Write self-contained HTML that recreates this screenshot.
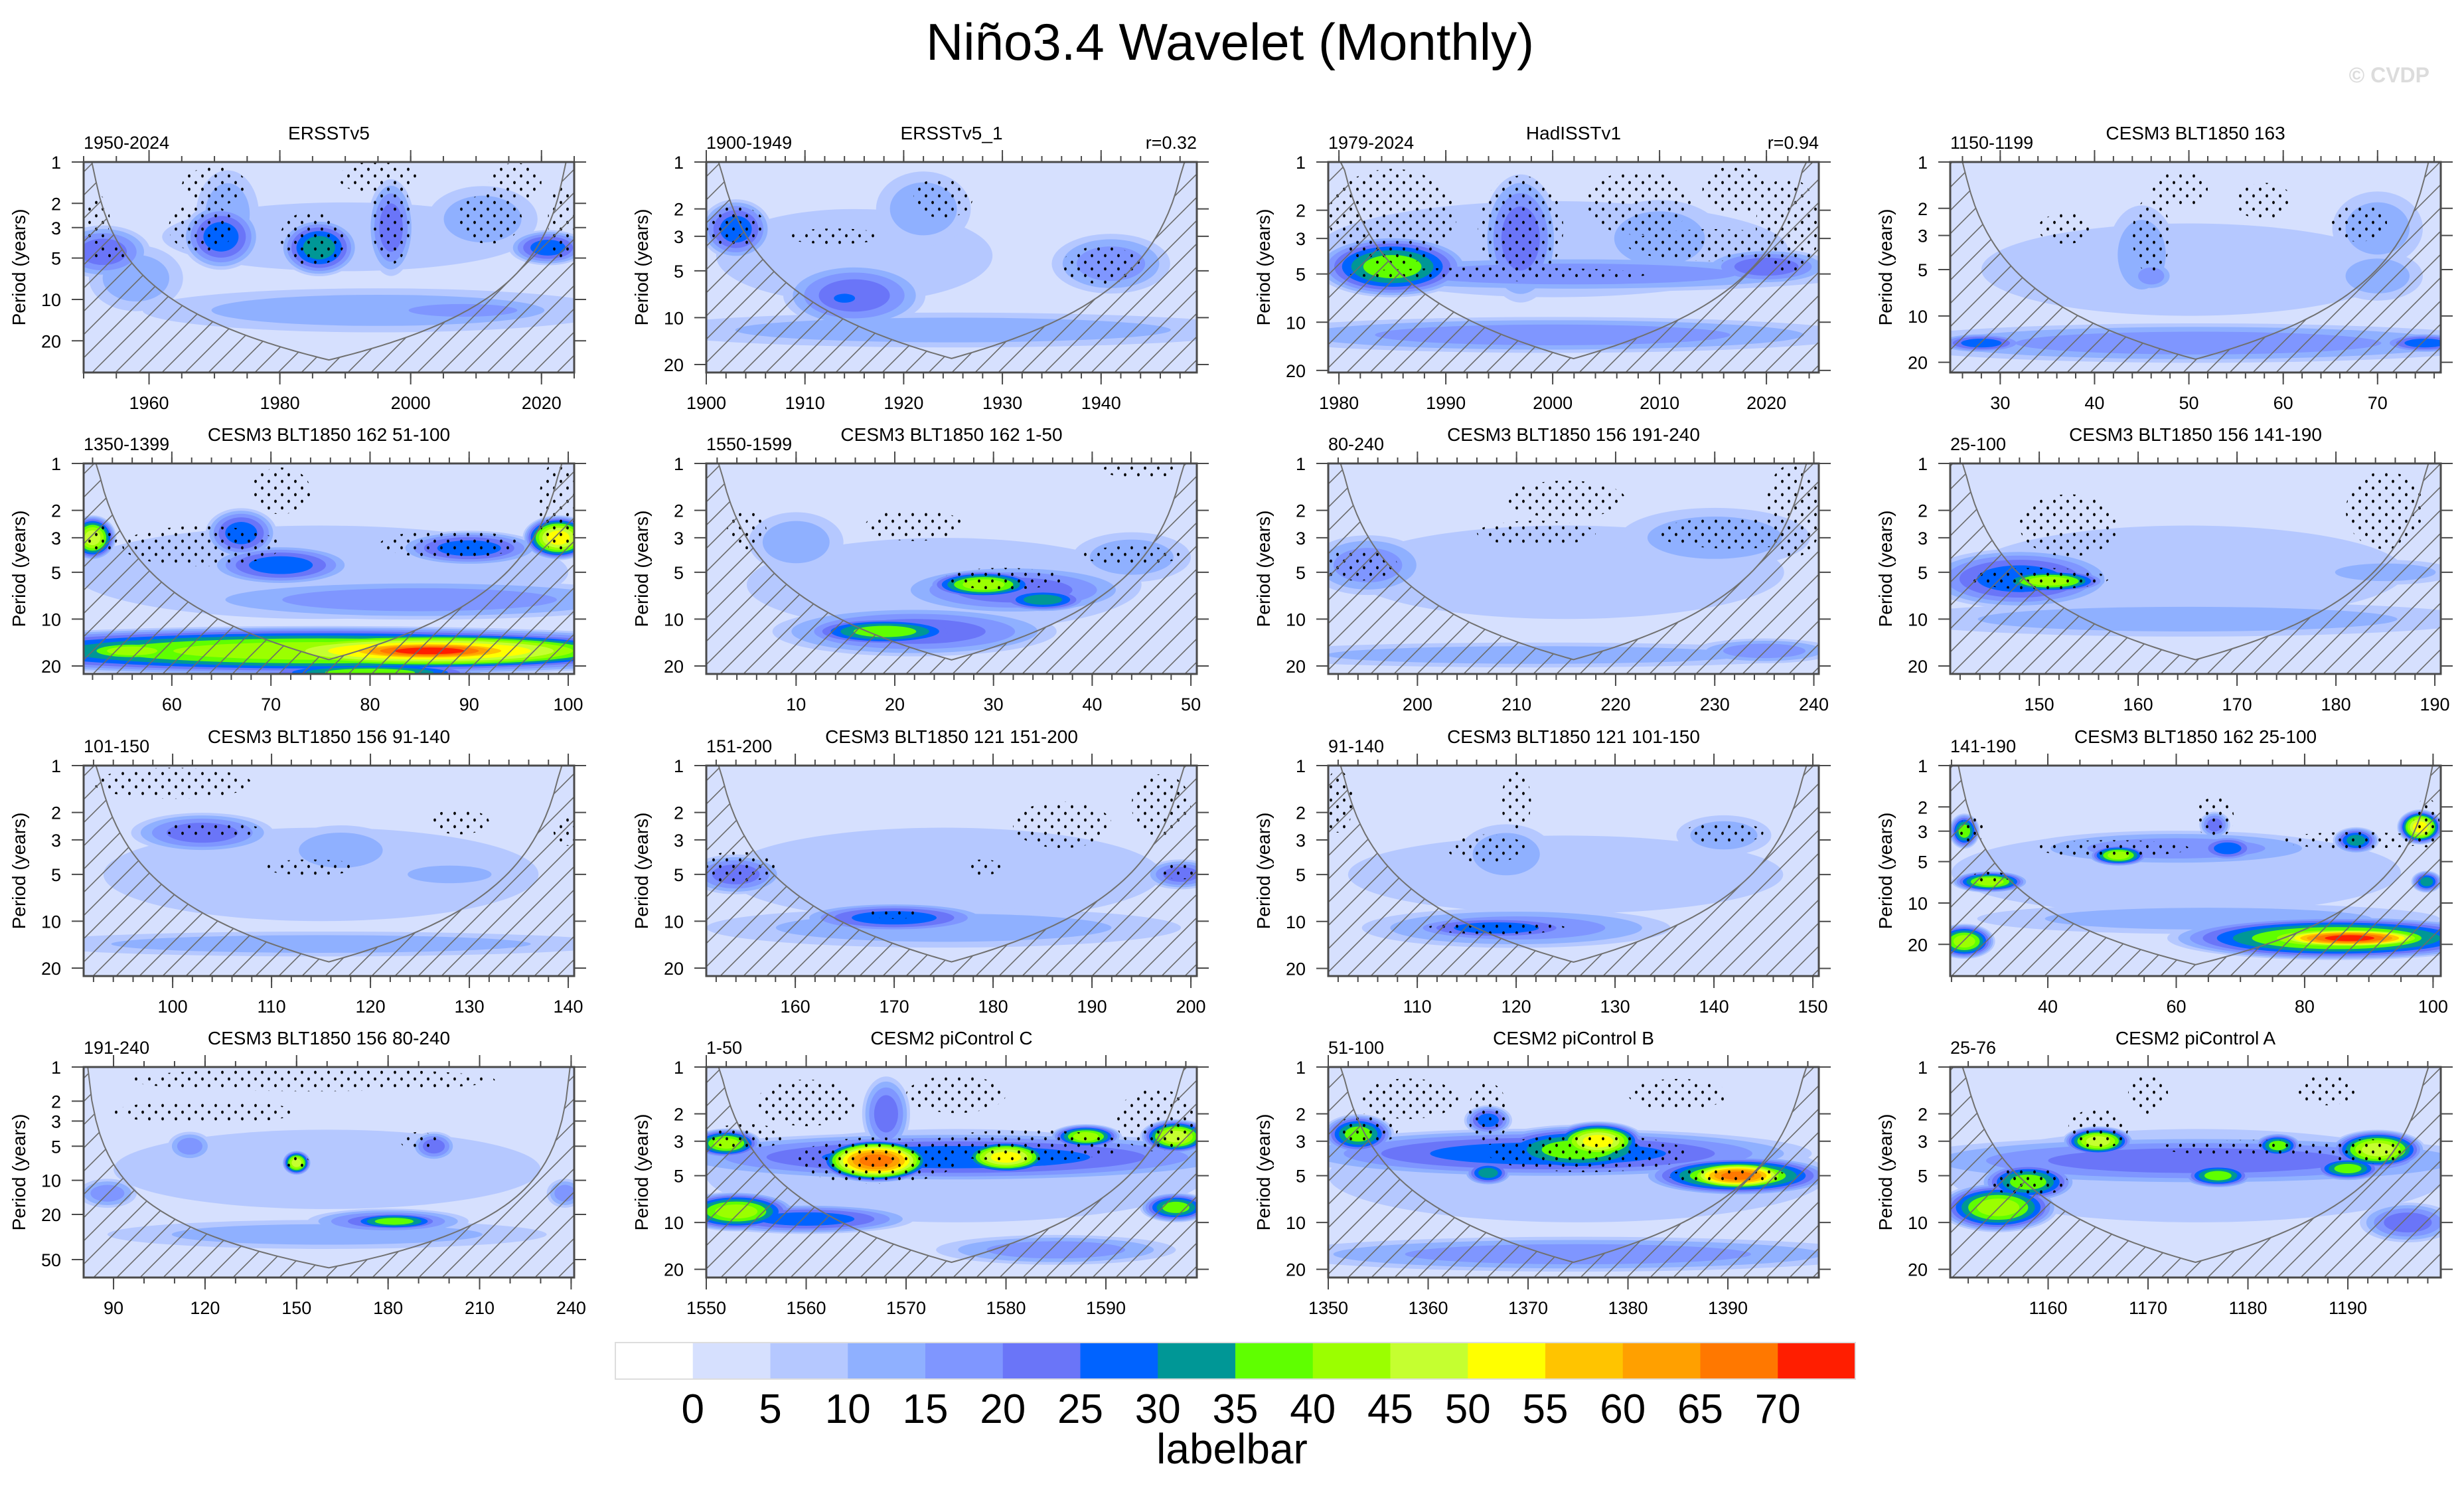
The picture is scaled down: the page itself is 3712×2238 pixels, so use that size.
<!DOCTYPE html>
<html><head><meta charset="utf-8">
<style>
html,body{margin:0;padding:0;background:#fff;}
svg{display:block;font-family:"Liberation Sans",Arial,sans-serif;}
</style></head>
<body>
<svg id="chart" width="3712" height="2238" viewBox="0 0 3712 2238" xmlns="http://www.w3.org/2000/svg">
<defs>
<pattern id="hatch" patternUnits="userSpaceOnUse" width="35" height="35">
<line x1="0" y1="35" x2="35" y2="0" stroke="#6a6a6a" stroke-width="1.6"/>
<line x1="-5" y1="5" x2="5" y2="-5" stroke="#6a6a6a" stroke-width="1.6"/>
<line x1="30" y1="40" x2="40" y2="30" stroke="#6a6a6a" stroke-width="1.6"/>
</pattern>
<pattern id="dots" patternUnits="userSpaceOnUse" width="20" height="20">
<ellipse cx="5" cy="5" rx="1.9" ry="2.4" fill="#000"/>
<ellipse cx="15" cy="15" rx="1.9" ry="2.4" fill="#000"/>
</pattern>
</defs>
<text x="1853" y="90" font-size="78" text-anchor="middle" fill="#000">Niño3.4 Wavelet (Monthly)</text>
<text x="3660" y="124" font-size="32" font-weight="bold" text-anchor="end" fill="#dcdcdc">© CVDP</text>
<g id="panels"></g>
<g id="labelbar"></g>
</svg>
<script>
// ---------- data ----------
const panelTitles = ["ERSSTv5","ERSSTv5_1","HadISSTv1","CESM3 BLT1850 163",
 "CESM3 BLT1850 162 51-100","CESM3 BLT1850 162 1-50","CESM3 BLT1850 156 191-240","CESM3 BLT1850 156 141-190",
 "CESM3 BLT1850 156 91-140","CESM3 BLT1850 121 151-200","CESM3 BLT1850 121 101-150","CESM3 BLT1850 162 25-100",
 "CESM3 BLT1850 156 80-240","CESM2 piControl C","CESM2 piControl B","CESM2 piControl A"];
const panelLeftLabels = ["1950-2024","1900-1949","1979-2024","1150-1199",
 "1350-1399","1550-1599","80-240","25-100",
 "101-150","151-200","91-140","141-190",
 "191-240","1-50","51-100","25-76"];
const panelRightLabels = ["","r=0.32","r=0.94","","","","","","","","","","","","",""];
const panelXRange = [[1950,2025],[1900,1949.7],[1979,2024.9],[24.7,76.7],
 [51.1,100.6],[0.9,50.6],[191,240.5],[141,190.6],
 [91,140.6],[151,200.6],[101,150.6],[24.8,101.2],
 [80.2,241],[1550,1599.1],[1350,1399.1],[1150.2,1199.3]];
const panelYMax = [34,22.5,20.6,23.3, 22.5,22.5,22.5,22.5, 22.5,22.5,22.4,34, 72,22.6,22.6,22.6];
const panelXTicks = [[1960,1980,2000,2020],[1900,1910,1920,1930,1940],[1980,1990,2000,2010,2020],[30,40,50,60,70],
 [60,70,80,90,100],[10,20,30,40,50],[200,210,220,230,240],[150,160,170,180,190],
 [100,110,120,130,140],[160,170,180,190,200],[110,120,130,140,150],[40,60,80,100],
 [90,120,150,180,210,240],[1550,1560,1570,1580,1590],[1350,1360,1370,1380,1390],[1160,1170,1180,1190]];
const panelMinorStep = [5,2,2,2, 2,2,2,2, 2,2,2,5, 10,2,2,2];
const yTickStd = [1,2,3,5,10,20];
const yTickLong = [1,2,3,5,10,20,50];
// blobs: [time, period, halfWidthYears, halfHeightLog10, peakLevel]
const panelBlobs = [
 [[1990,3.5,28,0.25,10],[1953,4.5,6,0.12,25],[1971,3.5,5,0.15,30],[1986,4.2,5,0.13,35],[1997,3,3,0.22,25],[2021,4.2,5,0.08,30],[1995,12,30,0.1,15],[2008,12,12,0.05,20],[1958,7,6,0.15,15],[1972,2.4,4,0.2,15],[2011,2.6,7,0.15,15]],
 [[1915,4,14,0.3,10],[1903,2.7,3,0.12,30],[1915,7.2,6,0.13,25],[1914,7.5,2,0.04,30],[1925,12,26,0.07,15],[1941,4.5,5,0.12,20],[1922,2,4,0.15,15]],
 [[2000,3.5,22,0.3,10],[1985,4.5,6,0.12,40],[2002,5,22,0.07,20],[1997,3,3,0.25,25],[2000,12,24,0.07,20],[2020,4.5,5,0.07,25],[2010,3,5,0.15,15]],
 [[50,5,22,0.3,10],[51,15,28,0.08,20],[28,15,4,0.04,30],[75,15,4,0.04,30],[45,4,3,0.2,15],[46,5.5,2,0.06,20],[70,5.5,4,0.1,15],[70,2.7,4,0.15,15]],
 [[75,5,25,0.3,10],[75,16,35,0.1,45],[86,16,20,0.08,60],[86,16,11,0.05,75],[80,22,10,0.04,40],[52,3,2,0.09,50],[99,3,3,0.09,55],[90,3.5,6,0.07,30],[67,2.8,3,0.1,30],[71,4.5,6,0.08,30],[85,7.5,20,0.08,20],[56,16,6,0.05,45]],
 [[25,6,20,0.3,10],[22,12,12,0.1,25],[19,12,7,0.06,40],[32,6.5,10,0.1,25],[29,6,5,0.06,45],[35,7.5,4,0.05,35],[10,3.2,4,0.12,15],[44,4,5,0.1,15]],
 [[215,5,22,0.3,10],[195,4.5,5,0.12,20],[230,3,8,0.12,15],[212,17,25,0.05,15],[235,16,6,0.05,20]],
 [[165,5,22,0.3,10],[148,5.5,8,0.12,30],[151,5.7,5,0.05,45],[165,10,25,0.07,15],[185,5,6,0.05,15]],
 [[115,5,22,0.3,10],[103,2.7,6,0.08,25],[117,3.5,5,0.1,15],[128,5,5,0.05,15],[115,14,25,0.05,15]],
 [[175,5,22,0.3,10],[154,5,4,0.08,25],[170,9.5,8,0.06,30],[199,5,3,0.06,25],[175,11,20,0.08,15]],
 [[125,5,22,0.25,10],[118,11,8,0.05,30],[120,11,13,0.08,20],[141,2.8,4,0.08,15],[119,3.7,4,0.12,15]],
 [[60,6,35,0.3,10],[85,18,22,0.1,45],[87,18,12,0.05,75],[27,19,4,0.08,45],[31,7,5,0.05,45],[51,4.5,4,0.05,45],[27,3,2,0.08,40],[98,2.8,3,0.08,55],[88,3.5,3,0.06,35],[68,4,4,0.06,30],[66,2.7,2,0.06,25],[99,7,2,0.05,35],[60,4,20,0.08,20],[65,13,30,0.07,15]],
 [[160,8,70,0.35,10],[150,7,4,0.07,50],[182,23,14,0.05,40],[180,23,22,0.07,25],[115,5,6,0.08,20],[195,5,6,0.08,25],[88,13,8,0.08,20],[238,13,5,0.08,20],[160,30,60,0.08,15]],
 [[1575,5,25,0.3,10],[1575,3.8,25,0.1,30],[1567,4,5,0.09,70],[1580,3.8,4,0.07,55],[1552,3.1,3,0.06,45],[1588,2.8,3,0.05,45],[1597,2.8,3,0.07,50],[1553,8.5,5,0.08,45],[1560,9.5,9,0.06,30],[1597,8,3,0.06,40],[1585,15,10,0.06,20],[1568,2,2,0.15,25]],
 [[1375,5,25,0.3,10],[1372,3.6,22,0.1,30],[1391,5,5,0.06,70],[1391,5,8,0.08,45],[1377,3,4,0.08,55],[1375,3.4,8,0.1,40],[1366,4.8,2,0.05,35],[1353,2.7,3,0.08,40],[1366,2.2,2,0.06,30],[1375,16,25,0.07,20]],
 [[1175,5,25,0.3,10],[1175,4,25,0.1,25],[1155,8,5,0.1,45],[1158,5.5,4,0.08,40],[1165,3,3,0.06,50],[1177,5,3,0.05,40],[1183,3.2,2,0.05,40],[1193,3.4,4,0.08,50],[1190,4.5,3,0.05,40],[1196,10,4,0.08,25]]
];
// stipple regions: [time, period, halfWidthYears, halfHeightLog10]
const panelStipples = [
 [[1968,3,5,0.18],[1985,3.6,5,0.2],[1997,2.6,3,0.33],[2012,2.6,5,0.18],[1970,1.5,5,0.14],[1995,1.3,6,0.12],[2016,1.4,4,0.14],[1952,2.6,2,0.18],[2023,2.6,2,0.28],[1954,4.6,3,0.05]],
 [[1903,2.6,3,0.13],[1913,3,5,0.05],[1924,1.7,3,0.13],[1940,4.6,4,0.12]],
 [[1985,2.2,6,0.3],[1997,2.6,4,0.33],[2008,1.8,5,0.2],[2015,3.3,8,0.1],[2017,1.5,3,0.15],[2022,2.5,3,0.3],[1995,5,14,0.04]],
 [[37,2.7,3,0.1],[46,3,2,0.25],[49,1.5,3,0.12],[58,1.8,3,0.12],[68,2.5,3,0.12]],
 [[63,3.4,8,0.13],[88,3.3,7,0.09],[99,1.9,2,0.3],[71,1.5,3,0.15],[53,3,1.5,0.09]],
 [[31,5.5,6,0.07],[22,2.5,5,0.1],[5,2.7,2,0.12],[44,3.9,5,0.06],[45,1.1,4,0.05]],
 [[194,4.5,4,0.1],[212,2.8,6,0.08],[232,2.8,8,0.1],[215,1.7,6,0.12],[238,2,3,0.3]],
 [[150,5.5,7,0.07],[153,2.5,5,0.2],[185,2,4,0.25]],
 [[100,1.3,8,0.1],[104,2.6,5,0.05],[114,4.5,5,0.05],[129,2.3,3,0.08],[140,2.6,1.5,0.1]],
 [[154,4.5,4,0.1],[170,9,3,0.03],[179,4.5,2,0.05],[187,2.4,5,0.15],[197,1.8,3,0.2],[199,4.8,2,0.05]],
 [[118,11,7,0.04],[117,3.4,4,0.09],[120,1.7,1.5,0.2],[141,2.7,4,0.07],[102,1.7,1.5,0.2]],
 [[50,4,12,0.06],[88,3.5,12,0.06],[31,6.5,3,0.04],[99,2.6,2,0.18],[66,2.4,3,0.15],[28,3,2,0.1]],
 [[155,1.3,60,0.1],[120,2.5,30,0.1],[190,4.5,6,0.08],[150,6.8,4,0.06]],
 [[1567,4,8,0.15],[1582,3.2,10,0.1],[1560,1.7,5,0.15],[1595,2.2,4,0.2],[1554,2.8,4,0.08],[1575,1.5,5,0.12]],
 [[1376,3.6,10,0.12],[1390,5,6,0.05],[1358,1.6,5,0.13],[1366,2,2,0.2],[1354,2.5,3,0.1],[1385,1.5,5,0.1]],
 [[1158,5.5,4,0.09],[1165,2.5,3,0.13],[1181,3.3,10,0.05],[1192,3.5,4,0.08],[1170,1.5,2,0.13],[1188,1.4,3,0.1]]
];
const levelValues = [0,5,10,15,20,25,30,35,40,45,50,55,60,65,70,75];
const levelColors = ["#ffffff","#d6e0fe","#b5c8ff","#8fb0ff","#7f96ff","#6a75f8","#0063ff","#009796","#5fff00","#9bff00","#c5ff30","#ffff00","#ffc400","#ffa000","#ff7800","#ff1e00"];
const barLabels = ["0","5","10","15","20","25","30","35","40","45","50","55","60","65","70"];

// ---------- geometry ----------
const NS = "http://www.w3.org/2000/svg";
const colLeft = [126,1064,2001,2938], rowTop = [244,698,1153,1607];
const PW = 739, PH = 317;
const COI_K = 0.735;
const RX_GAIN = 1.2, RY_GAIN = 1.6;
function mk(tag, attrs, parent){ const e=document.createElementNS(NS,tag); for(const k in attrs) e.setAttribute(k,attrs[k]); if(parent) parent.appendChild(e); return e; }
function colorOf(l){ return levelColors[levelValues.indexOf(l)]; }

const root = document.getElementById("panels");
for(let i=0;i<16;i++){
  const L = colLeft[i%4], T = rowTop[Math.floor(i/4)];
  const [x0,x1] = panelXRange[i], ymax = panelYMax[i];
  const lmax = Math.log10(ymax);
  const xs = t => L + PW*(t-x0)/(x1-x0);
  const ys = p => T + PH*Math.log10(p)/lmax;
  const g = mk("g",{},root);
  
  
  const cp = mk("clipPath",{id:"clip"+i},g);
  mk("rect",{x:L,y:T,width:PW,height:PH},cp);
  const plot = mk("g",{"clip-path":"url(#clip"+i+")"},g);
  mk("rect",{x:L,y:T,width:PW,height:PH,fill:levelColors[1]},plot);
  const blobs = panelBlobs[i];
  for(let lv=10; lv<=75; lv+=5){
    blobs.forEach(b=>{
      const [t,p,rt,rp,Lk]=b;
      if(lv>Lk) return;
      const s = Lk===10 ? 1 : Math.sqrt((Lk-lv+5)/(Lk-5));
      const gx = Lk===10 ? 1 : RX_GAIN, gy = Lk===10 ? 1 : RY_GAIN;
      const e = mk("ellipse",{cx:xs(t),cy:ys(p),rx:gx*rt*s*PW/(x1-x0),ry:gy*rp*s*PH/lmax,fill:colorOf(lv)},plot);
      
      
    });
  }
  panelStipples[i].forEach(s=>{
    const [t,p,rt,rp]=s;
    const e = mk("ellipse",{cx:xs(t),cy:ys(p),rx:rt*PW/(x1-x0),ry:rp*PH/lmax,fill:"url(#dots)"},plot);
    
    
  });
  // cone of influence
  let pts=[];
  const N=120;
  for(let k=0;k<=N;k++){
    const t = x0 + (x1-x0)*k/N;
    const d = Math.min(t-x0, x1-t);
    const per = COI_K*d;
    let y = per<=1 ? T : ys(per);
    y = Math.min(y, T+PH); y=Math.max(y,T);
    pts.push([xs(t),y]);
  }
  const poly = pts.map(q=>q[0].toFixed(1)+","+q[1].toFixed(1)).join(" ");
  const hatch = mk("polygon",{points:L+","+(T+PH)+" "+poly+" "+(L+PW)+","+(T+PH),fill:"url(#hatch)"},plot);
  
  
  const coi = mk("polyline",{points:poly,fill:"none",stroke:"#707070","stroke-width":2},plot);
  
  
  // frame
  const fr = mk("rect",{x:L,y:T,width:PW,height:PH,fill:"none",stroke:"#4a4a4a","stroke-width":3},g);
  
  
  // x ticks
  const step = panelMinorStep[i];
  for(let t=Math.ceil(x0/step)*step; t<=x1; t+=step){
    const x=xs(t);
    mk("line",{x1:x,y1:T+PH,x2:x,y2:T+PH+9,stroke:"#4a4a4a","stroke-width":2},g);
    mk("line",{x1:x,y1:T,x2:x,y2:T-9,stroke:"#4a4a4a","stroke-width":2},g);
  }
  panelXTicks[i].forEach(t=>{
    const x=xs(t);
    mk("line",{x1:x,y1:T+PH,x2:x,y2:T+PH+18,stroke:"#4a4a4a","stroke-width":2},g);
    mk("line",{x1:x,y1:T,x2:x,y2:T-18,stroke:"#4a4a4a","stroke-width":2},g);
    const tx = mk("text",{x:x,y:T+PH+55,"font-size":27,"text-anchor":"middle"},g);
    tx.textContent=String(t);
    
    
  });
  // y ticks
  const yt = ymax>50 ? yTickLong : yTickStd;
  yt.forEach(p=>{
    const y=ys(p);
    mk("line",{x1:L,y1:y,x2:L-18,y2:y,stroke:"#4a4a4a","stroke-width":2},g);
    mk("line",{x1:L+PW,y1:y,x2:L+PW+18,y2:y,stroke:"#4a4a4a","stroke-width":2},g);
    const tx = mk("text",{x:L-34,y:y+10,"font-size":27,"text-anchor":"end"},g);
    tx.textContent=String(p);
    
    
  });
  const yl = mk("text",{x:0,y:0,"font-size":28,"text-anchor":"middle",transform:"translate("+(L-88)+","+(T+PH/2)+") rotate(-90)"},g);
  yl.textContent="Period (years)";
  
  
  const ti = mk("text",{x:L+PW/2,y:T-34,"font-size":28,"text-anchor":"middle"},g);
  ti.textContent=panelTitles[i];
  
  
  const ll = mk("text",{x:L,y:T-20,"font-size":27},g);
  ll.textContent=panelLeftLabels[i];
  
  
  if(panelRightLabels[i]){
    const rl = mk("text",{x:L+PW,y:T-20,"font-size":27,"text-anchor":"end"},g);
    rl.textContent=panelRightLabels[i];
    
    
  }
}
// ---------- labelbar ----------
const lb = document.getElementById("labelbar");
const bx0=927, bx1=2795, bw=(bx1-bx0)/levelColors.length;
levelColors.forEach((c,k)=>{
  const r = mk("rect",{x:bx0+k*bw,y:2022,width:bw+0.5,height:55,fill:c},lb);
  
  
});
mk("rect",{x:bx0,y:2022,width:bx1-bx0,height:55,fill:"none",stroke:"#dddddd","stroke-width":2},lb);
barLabels.forEach((s,k)=>{
  const tx = mk("text",{x:bx0+(k+1)*bw,y:2143,"font-size":62,"text-anchor":"middle"},lb);
  tx.textContent=s;
  
  
});
const lt = mk("text",{x:1856,y:2204,"font-size":64,"text-anchor":"middle"},lb);
lt.textContent="labelbar";


</script>
</body></html>
